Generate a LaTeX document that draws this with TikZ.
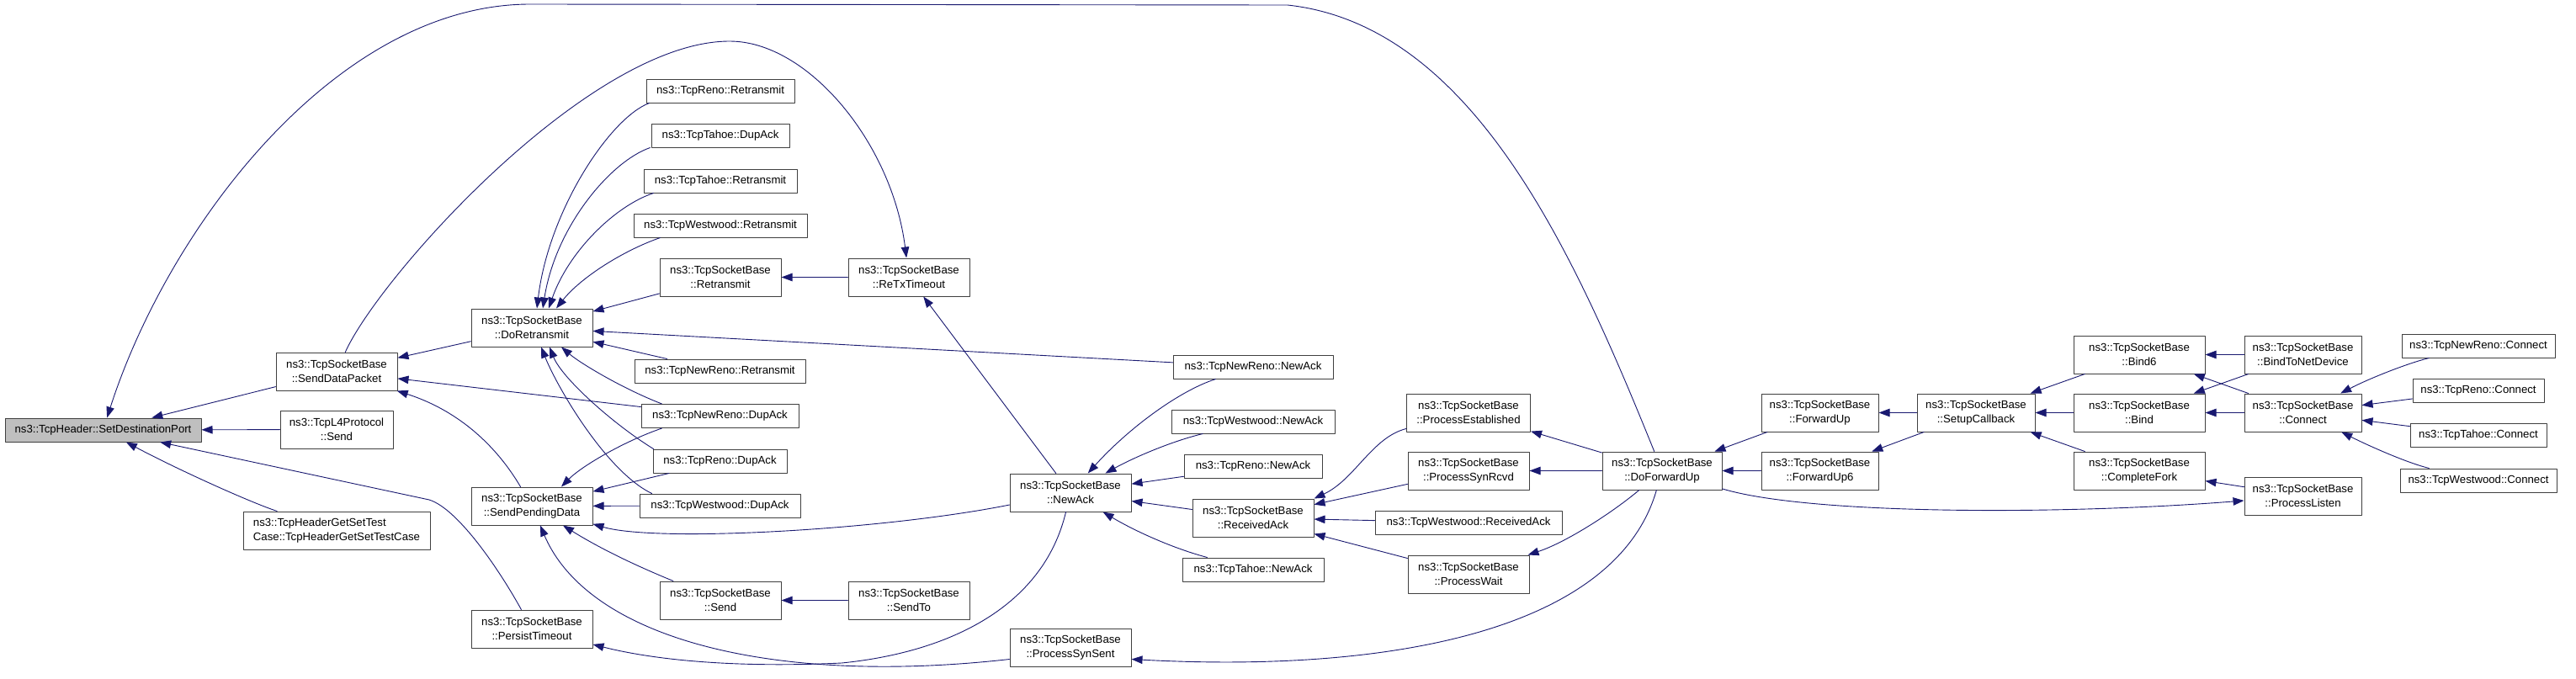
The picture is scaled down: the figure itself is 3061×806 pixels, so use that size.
\documentclass[tikz,border=0pt]{standalone}
\usepackage{fontspec}
\setmainfont{Liberation Sans}
\usetikzlibrary{arrows.meta}
\definecolor{edgeblue}{HTML}{191970}
\begin{document}
\begin{tikzpicture}[x=1pt, y=-1pt, line join=round, line cap=round,
	fn/.style={draw=black!75, line width=1pt, fill=white, inner sep=0pt, align=center,
		minimum height=28, font=\fontsize{13.2}{17}\selectfont},
	fn2/.style={fn, minimum height=45, minimum width=144},
	call/.style={edgeblue, line width=0.9pt, -{Triangle[length=13pt,width=9.5pt]}}]
		\useasboundingbox (0,0) rectangle (3061,806);
		% functions
		\node[fn, minimum width=233, fill=black!25] (sdp) at (122.5,511) {ns3::TcpHeader::SetDestinationPort};
		\node[fn2] (sdpk) at (400,441.5) {ns3::TcpSocketBase\\::SendDataPacket};
		\node[fn2, minimum width=134] (l4send) at (400,510.5) {ns3::TcpL4Protocol\\::Send};
		\node[fn2, minimum width=222, align=left] (hgs) at (400,630.5) {ns3::TcpHeaderGetSetTest\\Case::TcpHeaderGetSetTestCase};
		\node[fn2] (dr) at (632,389.5) {ns3::TcpSocketBase\\::DoRetransmit};
		\node[fn2] (spd) at (632,601.5) {ns3::TcpSocketBase\\::SendPendingData};
		\node[fn2] (pt) at (632,747.5) {ns3::TcpSocketBase\\::PersistTimeout};
		\node[fn, minimum width=176] (renoRe) at (856,108) {ns3::TcpReno::Retransmit};
		\node[fn, minimum width=164] (tahoeDup) at (856,161) {ns3::TcpTahoe::DupAck};
		\node[fn, minimum width=182] (tahoeRe) at (856,215) {ns3::TcpTahoe::Retransmit};
		\node[fn, minimum width=206] (westRe) at (856,268) {ns3::TcpWestwood::Retransmit};
		\node[fn2] (sbRe) at (856,329.5) {ns3::TcpSocketBase\\::Retransmit};
		\node[fn, minimum width=203] (nrRe) at (855.5,441) {ns3::TcpNewReno::Retransmit};
		\node[fn, minimum width=187] (nrDup) at (855.5,494.5) {ns3::TcpNewReno::DupAck};
		\node[fn, minimum width=159] (renoDup) at (855.5,548) {ns3::TcpReno::DupAck};
		\node[fn, minimum width=191] (westDup) at (855.5,601) {ns3::TcpWestwood::DupAck};
		\node[fn2] (send) at (856,713.5) {ns3::TcpSocketBase\\::Send};
		\node[fn2] (rto) at (1080,329.5) {ns3::TcpSocketBase\\::ReTxTimeout};
		\node[fn2] (sendto) at (1080,713.5) {ns3::TcpSocketBase\\::SendTo};
		\node[fn2] (newack) at (1272,585.5) {ns3::TcpSocketBase\\::NewAck};
		\node[fn2] (pss) at (1272,769.5) {ns3::TcpSocketBase\\::ProcessSynSent};
		\node[fn, minimum width=190] (nrNew) at (1489,436) {ns3::TcpNewReno::NewAck};
		\node[fn, minimum width=194] (westNew) at (1489,501) {ns3::TcpWestwood::NewAck};
		\node[fn, minimum width=164] (renoNew) at (1489,554.5) {ns3::TcpReno::NewAck};
		\node[fn2] (rack) at (1489,615.5) {ns3::TcpSocketBase\\::ReceivedAck};
		\node[fn, minimum width=168] (tahoeNew) at (1489,677) {ns3::TcpTahoe::NewAck};
		\node[fn2, minimum width=147] (pest) at (1745,490.5) {ns3::TcpSocketBase\\::ProcessEstablished};
		\node[fn2] (psr) at (1745,559.5) {ns3::TcpSocketBase\\::ProcessSynRcvd};
		\node[fn, minimum width=222] (westRack) at (1745,621) {ns3::TcpWestwood::ReceivedAck};
		\node[fn2] (pw) at (1745,682.5) {ns3::TcpSocketBase\\::ProcessWait};
		\node[fn2, minimum width=142] (dfu) at (1975,559.5) {ns3::TcpSocketBase\\::DoForwardUp};
		\node[fn2, minimum width=139] (fu) at (2162.5,490.5) {ns3::TcpSocketBase\\::ForwardUp};
		\node[fn2, minimum width=139] (fu6) at (2162.5,559.5) {ns3::TcpSocketBase\\::ForwardUp6};
		\node[fn2, minimum width=140] (scb) at (2348,490.5) {ns3::TcpSocketBase\\::SetupCallback};
		\node[fn2, minimum width=156] (bind6) at (2542,421.5) {ns3::TcpSocketBase\\::Bind6};
		\node[fn2, minimum width=156] (bind) at (2542,490.5) {ns3::TcpSocketBase\\::Bind};
		\node[fn2, minimum width=156] (cfork) at (2542,559.5) {ns3::TcpSocketBase\\::CompleteFork};
		\node[fn2, minimum width=139] (b2nd) at (2736.5,421.5) {ns3::TcpSocketBase\\::BindToNetDevice};
		\node[fn2, minimum width=139] (conn) at (2736.5,490.5) {ns3::TcpSocketBase\\::Connect};
		\node[fn2, minimum width=139] (plis) at (2736.5,589.5) {ns3::TcpSocketBase\\::ProcessListen};
		\node[fn, minimum width=182] (nrConn) at (2945,411) {ns3::TcpNewReno::Connect};
		\node[fn, minimum width=156] (renoConn) at (2945,464) {ns3::TcpReno::Connect};
		\node[fn, minimum width=162] (tahoeConn) at (2945,517) {ns3::TcpTahoe::Connect};
		\node[fn, minimum width=186] (westConn) at (2945,571) {ns3::TcpWestwood::Connect};
		% callers of SetDestinationPort
		\draw[call] (sdpk) -- (sdp);
		\draw[call] (l4send) -- (sdp);
		\draw[call] (hgs) .. controls (300,598) and (215,560) .. (sdp);
		\draw[call] (pt) .. controls (595,680) and (545,605) .. (510,594) -- (sdp);
		\draw[call] (dfu) .. controls (1870,300) and (1750,30) .. (1530,6) -- (630,5) .. controls (400,5) and (200,270) .. (sdp);
		% callers of SendDataPacket
		\draw[call] (dr) -- (sdpk);
		\draw[call] (nrDup) -- (sdpk);
		\draw[call] (spd) .. controls (590,530) and (545,488) .. (sdpk);
		% callers of DoRetransmit
		\draw[call] ([xshift=4]renoRe.south west) .. controls (725,140) and (652,250) .. ([xshift=6]dr.north);
		\draw[call] ([xshift=-1]tahoeDup.south west) .. controls (725,192) and (660,270) .. ([xshift=13]dr.north);
		\draw[call] ([xshift=12]tahoeRe.south west) .. controls (730,245) and (675,300) .. ([xshift=20]dr.north);
		\draw[call] ([xshift=32]westRe.south west) .. controls (740,298) and (690,330) .. ([xshift=29]dr.north);
		\draw[call] (sbRe) -- (dr);
		\draw[call] (nrNew) -- (dr);
		\draw[call] (nrRe) -- (dr);
		\draw[call] ([xshift=25]nrDup.north west) .. controls (740,462) and (690,432) .. ([xshift=35]dr.south);
		\draw[call] ([xshift=1]renoDup.north west) .. controls (730,505) and (668,450) .. ([xshift=21]dr.south);
		\draw[call] ([xshift=15]westDup.north west) .. controls (720,560) and (662,460) .. ([xshift=11]dr.south);
		% callers of SendPendingData
		\draw[call] ([xshift=25]nrDup.south west) .. controls (740,525) and (690,555) .. ([xshift=35]spd.north);
		\draw[call] (renoDup) -- (spd);
		\draw[call] (westDup) -- (spd);
		\draw[call] (newack) .. controls (1050,630) and (780,645) .. (spd);
		\draw[call] (send) .. controls (750,670) and (710,650) .. (spd);
		\draw[call] ([yshift=-14]pss.west) .. controls (920,815) and (700,760) .. (spd);
		% PersistTimeout, ReTxTimeout, Retransmit, Send
		\draw[call] (newack) .. controls (1240,720) and (1130,775) .. (1000,788) .. controls (850,795) and (760,780) .. (pt);
		\draw[call] (sdpk) .. controls (450,330) and (700,49) .. (867,49) .. controls (960,49) and (1060,170) .. (rto);
		\draw[call] (newack) -- (rto);
		\draw[call] (rto) -- (sbRe);
		\draw[call] (sendto) -- (send);
		% callers of NewAck
		\draw[call] (nrNew) .. controls (1400,465) and (1340,510) .. (newack);
		\draw[call] (westNew) .. controls (1390,525) and (1345,545) .. (newack);
		\draw[call] (renoNew) -- (newack);
		\draw[call] (rack) -- (newack);
		\draw[call] (tahoeNew) .. controls (1395,652) and (1350,632) .. (newack);
		% callers of ReceivedAck
		\draw[call] (pest) .. controls (1630,520) and (1610,570) .. (rack.north east);
		\draw[call] (psr) -- (rack);
		\draw[call] (westRack) -- (rack);
		\draw[call] (pw) -- (rack);
		% DoForwardUp
		\draw[call] (dfu) -- (pest);
		\draw[call] (dfu) -- (psr);
		\draw[call] (dfu) .. controls (1915,610) and (1860,645) .. (pw);
		\draw[call] (dfu) .. controls (1920,750) and (1650,800) .. ([yshift=-14]pss.east);
		\draw[call] (dfu) .. controls (2150,612) and (2450,612) .. (plis);
		\draw[call] (fu) -- (dfu);
		\draw[call] (fu6) -- (dfu);
		\draw[call] (scb) -- (fu);
		\draw[call] (scb) -- (fu6);
		\draw[call] (bind6) -- (scb);
		\draw[call] (bind) -- (scb);
		\draw[call] (cfork) -- (scb);
		\draw[call] (b2nd) -- (bind6);
		\draw[call] (b2nd) -- (bind);
		\draw[call] (conn) -- (bind6);
		\draw[call] (conn) -- (bind);
		\draw[call] (plis) -- (cfork);
		% callers of Connect
		\draw[call] (nrConn) .. controls (2860,432) and (2815,450) .. (conn);
		\draw[call] (renoConn) -- (conn);
		\draw[call] (tahoeConn) -- (conn);
		\draw[call] (westConn) .. controls (2860,550) and (2815,530) .. (conn);
\end{tikzpicture}
\end{document}
